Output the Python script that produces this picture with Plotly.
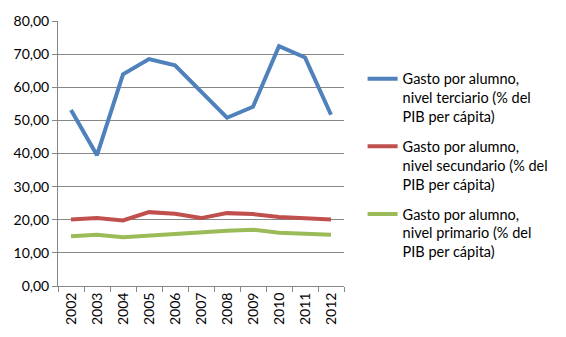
import plotly.graph_objects as go

years = ["2002", "2003", "2004", "2005", "2006", "2007", "2008", "2009", "2010", "2011", "2012"]
terciario = [53.1, 39.5, 63.9, 68.5, 66.6, 58.6, 50.8, 54.1, 72.4, 69.0, 51.7]
secundario = [20.1, 20.5, 19.8, 22.3, 21.8, 20.5, 22.0, 21.7, 20.8, 20.5, 20.1]
primario = [15.0, 15.5, 14.7, 15.2, 15.8, 16.1, 16.7, 17.0, 16.1, 15.8, 15.5]

names = [
    "Gasto por alumno,<br>nivel terciario (% del<br>PIB per cápita)",
    "Gasto por alumno,<br>nivel secundario (% del<br>PIB per cápita)",
    "Gasto por alumno,<br>nivel primario (% del<br>PIB per cápita)",
]
colors = ["#4F81BD", "#C0504D", "#9BBB59"]
series = [terciario, secundario, primario]

fig = go.Figure()
for i, (s, n, c) in enumerate(zip(series, names, colors)):
    fig.add_trace(go.Scatter(x=years, y=s, name=n, mode="lines",
                             line=dict(color=c, width=4), legendgroup=str(i)))

font = "Lato, Open Sans, sans-serif"
fig.update_layout(
    width=566, height=337,
    margin=dict(l=58, r=219, t=14, b=49),
    paper_bgcolor="white", plot_bgcolor="white",
    separators=",.",
    font=dict(family=font, size=14, color="black"),
    showlegend=True,
    legend=dict(x=1.065, y=0.842, xanchor="left", yanchor="top",
                font=dict(size=14.5), tracegroupgap=8, valign="top",
                traceorder="grouped", itemwidth=30),
    xaxis=dict(type="category", tickangle=-90, showgrid=False,
               range=[-0.5, 10.5],
               showline=True, linecolor="#878787", linewidth=1,
               ticks="outside", tickson="boundaries", ticklen=5,
               tickcolor="#878787", tickfont=dict(size=14)),
    yaxis=dict(range=[0, 80], dtick=10, tickformat=".2f",
               showgrid=True, gridcolor="#878787", gridwidth=1,
               showline=True, linecolor="#878787", linewidth=1,
               ticks="outside", ticklen=5, tickcolor="#878787",
               zeroline=False, tickfont=dict(size=14)),
)
fig.write_html("out.html")
